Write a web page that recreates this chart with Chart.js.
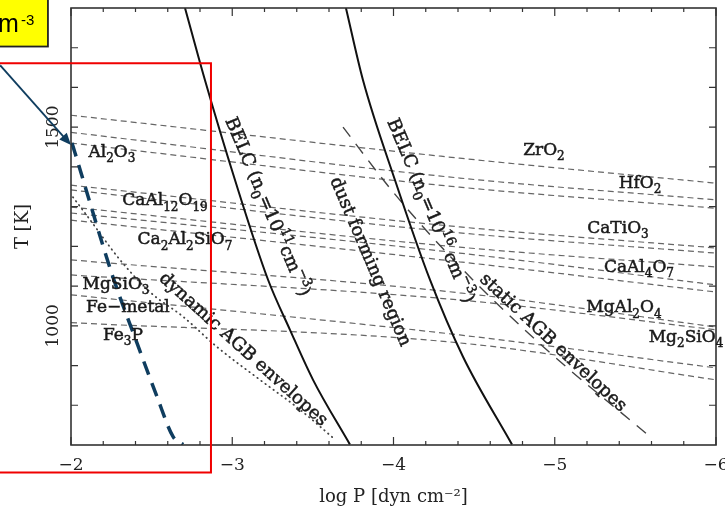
<!DOCTYPE html>
<html>
<head>
<meta charset="utf-8">
<script src="https://cdn.jsdelivr.net/npm/chart.js@4.4.1/dist/chart.umd.min.js"></script>
<style>
  html, body { margin: 0; padding: 0; background: #fff; }
  canvas { display: block; }
</style>
</head>
<body>
<canvas id="chart" width="725" height="514"></canvas>
<script>
// x = log P [dyn cm^-2], y = T [K]
const belc11P = [-2.707, -2.831, -3.017, -3.222, -3.358, -3.501, -3.730];
const belc11T = [1800, 1618, 1367, 1116, 990, 864, 701];
const belc16P = [-3.705, -3.811, -4.009, -4.226, -4.431, -4.735];
const belc16T = [1800, 1618, 1367, 1116, 922, 701];
const staticP = [-3.687, -3.997, -4.431, -4.927, -5.591];
const staticT = [1500, 1337, 1141, 948, 721];
const dynamicP = [-2.012, -2.105, -2.304, -2.490, -2.695, -2.905, -3.172, -3.420, -3.637];
const dynamicT = [1324, 1274, 1166, 1085, 1023, 947, 864, 789, 714];
const markedP = [-2.006, -2.025, -2.260, -2.409, -2.533, -2.633, -2.695];
const markedT = [1460, 1435, 1123, 957, 822, 721, 701];

// condensation lines, T at log P = -2, -4.41, -6
const condP = [-2, -4.41, -6];
const condT = [
  [1530, 1422, 1359],
  [1487, 1372, 1317],
  [1460, 1349, 1296],
  [1354, 1249, 1196],
  [1342, 1234, 1183],
  [1299, 1198, 1148],
  [1284, 1183, 1103],
  [1266, 1161, 1085],
  [1166, 1083, 997],
  [1128, 1065, 990],
  [1078, 977, 894],
  [1008, 957, 864],
];

const speciesText = ['Al_2O_3', 'CaAl_{12}O_{19}', 'Ca_2Al_2SiO_7', 'MgSiO_3', 'Fe\u2212metal', 'Fe_3P',
  'ZrO_2', 'HfO_2', 'CaTiO_3', 'CaAl_4O_7', 'MgAl_2O_4', 'Mg_2SiO_4'];
const speciesP = [-2.254, -2.583, -2.707, -2.279, -2.353, -2.322, -4.933, -5.529, -5.392, -5.522, -5.429, -5.814];
const speciesT = [1437, 1314, 1216, 1103, 1045, 975, 1442, 1359, 1244, 1146, 1045, 970];

const curveText = ['BELC (n_0=10^{11}cm^{-3})', 'BELC (n_0=10^{16} cm^{-3})', 'dust forming region',
  'static AGB envelopes', 'dynamic AGB envelopes'];
const curveP = [-3.2155, -4.226, -3.854, -4.989, -3.067];
const curveT = [1299, 1289, 1161, 957, 940];
const curveAngle = [67, 67, 67, 43, 42];

const NAVY = '#0f3d5f';
const SERIF = '"DejaVu Serif", serif';

function series(P, T) {
  return P.map((p, i) => ({x: p, y: T[i]}));
}

function parseRich(s) {
  const out = [];
  let buf = '', i = 0;
  while (i < s.length) {
    const c = s[i];
    if (c === '_' || c === '^') {
      if (buf) { out.push({t: buf, k: 0}); buf = ''; }
      let t;
      if (s[i + 1] === '{') {
        const j = s.indexOf('}', i);
        t = s.slice(i + 2, j);
        i = j + 1;
      } else {
        t = s[i + 1];
        i += 2;
      }
      out.push({t: t.replace('-', '\u2212'), k: c === '_' ? -1 : 1});
    } else {
      buf += c;
      i++;
    }
  }
  if (buf) out.push({t: buf, k: 0});
  return out;
}

function drawRich(ctx, s, x, y, angle, size) {
  const parts = parseRich(s);
  const big = size + 'px ' + SERIF;
  const small = Math.round(size * 0.72) + 'px ' + SERIF;
  let w = 0;
  parts.forEach(p => {
    ctx.font = p.k ? small : big;
    p.w = ctx.measureText(p.t).width;
    w += p.w;
  });
  ctx.save();
  ctx.translate(x, y);
  ctx.rotate(angle * Math.PI / 180);
  ctx.textBaseline = 'middle';
  ctx.textAlign = 'left';
  ctx.lineWidth = 0.5;
  let cx = -w / 2;
  parts.forEach(p => {
    ctx.font = p.k ? small : big;
    const dy = p.k === -1 ? size * 0.38 : p.k === 1 ? -size * 0.38 : 0;
    ctx.fillText(p.t, cx, dy);
    ctx.strokeText(p.t, cx, dy);
    cx += p.w;
  });
  ctx.restore();
}

const overlay = {
  id: 'overlay',
  afterDraw(chart) {
    const {ctx, chartArea: a, scales: {x, y}} = chart;
    ctx.save();

    // frame and inward ticks
    ctx.strokeStyle = '#333';
    ctx.lineWidth = 1.6;
    ctx.strokeRect(a.left, a.top, a.right - a.left, a.bottom - a.top);
    ctx.lineWidth = 1.2;
    ctx.beginPath();
    for (let i = 0; i <= 20; i++) {
      const px = x.getPixelForValue(-2 - i * 0.2);
      const len = i % 5 === 0 ? 8 : 4;
      ctx.moveTo(px, a.bottom); ctx.lineTo(px, a.bottom - len);
      ctx.moveTo(px, a.top); ctx.lineTo(px, a.top + len);
    }
    for (let t = 800; t < 1800; t += 100) {
      const py = y.getPixelForValue(t);
      ctx.moveTo(a.left, py); ctx.lineTo(a.left + 7, py);
      ctx.moveTo(a.right, py); ctx.lineTo(a.right - 7, py);
    }
    ctx.stroke();

    // labels
    ctx.fillStyle = '#1a1a1a';
    ctx.strokeStyle = '#1a1a1a';
    speciesText.forEach((s, i) => {
      drawRich(ctx, s, x.getPixelForValue(speciesP[i]), y.getPixelForValue(speciesT[i]), 0, 17);
    });
    curveText.forEach((s, i) => {
      drawRich(ctx, s, x.getPixelForValue(curveP[i]), y.getPixelForValue(curveT[i]), curveAngle[i], 18);
    });

    // red highlight box
    const rx = x.getPixelForValue(-2.868);
    const rt = y.getPixelForValue(1661);
    const rb = y.getPixelForValue(631);
    ctx.strokeStyle = '#f00000';
    ctx.lineWidth = 2;
    ctx.beginPath();
    ctx.moveTo(-2, rt); ctx.lineTo(rx, rt); ctx.lineTo(rx, rb); ctx.lineTo(-2, rb);
    ctx.stroke();

    // arrow to the top of the marked curve
    const ax0 = x.getPixelForValue(-1.56), ay0 = y.getPixelForValue(1656);
    const ax1 = x.getPixelForValue(-2.0), ay1 = y.getPixelForValue(1455);
    const ang = Math.atan2(ay1 - ay0, ax1 - ax0);
    ctx.strokeStyle = NAVY;
    ctx.fillStyle = NAVY;
    ctx.lineWidth = 1.8;
    ctx.beginPath();
    ctx.moveTo(ax0, ay0);
    ctx.lineTo(ax1 - 8 * Math.cos(ang), ay1 - 8 * Math.sin(ang));
    ctx.stroke();
    ctx.beginPath();
    ctx.moveTo(ax1, ay1);
    ctx.lineTo(ax1 - 12 * Math.cos(ang) + 5 * Math.sin(ang), ay1 - 12 * Math.sin(ang) - 5 * Math.cos(ang));
    ctx.lineTo(ax1 - 12 * Math.cos(ang) - 5 * Math.sin(ang), ay1 - 12 * Math.sin(ang) + 5 * Math.cos(ang));
    ctx.closePath();
    ctx.fill();

    // yellow note box (cut at the page edge)
    const yr = x.getPixelForValue(-1.857), yb = y.getPixelForValue(1703);
    ctx.fillStyle = '#ffff00';
    ctx.fillRect(-2, -2, yr + 2, yb + 2);
    ctx.strokeStyle = '#222';
    ctx.lineWidth = 1.8;
    ctx.strokeRect(-2, -2, yr + 2, yb + 2);
    ctx.fillStyle = '#000';
    ctx.textBaseline = 'alphabetic';
    ctx.textAlign = 'left';
    ctx.font = '25px "Liberation Sans", Arial, sans-serif';
    ctx.fillText('m', -2, 32);
    ctx.font = '15px "Liberation Sans", Arial, sans-serif';
    ctx.fillText('-3', 21, 25);

    ctx.restore();
  }
};

const datasets = [
  {data: series(markedP, markedT), borderColor: NAVY, borderWidth: 3.5, borderDash: [14, 9]},
  {data: series(belc11P, belc11T), borderColor: '#111', borderWidth: 2},
  {data: series(belc16P, belc16T), borderColor: '#111', borderWidth: 2},
  {data: series(staticP, staticT), borderColor: '#444', borderWidth: 1.4, borderDash: [12, 9]},
  {data: series(dynamicP, dynamicT), borderColor: '#444', borderWidth: 1.8, borderDash: [0.5, 4.5],
    borderCapStyle: 'round'},
  ...condT.map(T => ({data: series(condP, T), borderColor: '#666', borderWidth: 1.2,
    borderDash: [6, 4]})),
].map(d => Object.assign({showLine: true, pointRadius: 0, fill: false, cubicInterpolationMode: 'monotone'}, d));

new Chart(document.getElementById('chart'), {
  type: 'scatter',
  data: {datasets},
  options: {
    responsive: false,
    animation: false,
    layout: {padding: {top: 8, right: 9, bottom: 0, left: 0}},
    plugins: {legend: {display: false}, tooltip: {enabled: false}},
    scales: {
      x: {
        type: 'linear',
        min: -6,
        max: -2,
        reverse: true,
        grid: {display: false, drawTicks: false},
        border: {display: false},
        ticks: {
          stepSize: 1,
          autoSkip: false,
          padding: 10,
          color: '#222',
          font: {family: 'DejaVu Serif', size: 17},
          callback: v => '\u2212' + Math.abs(v),
        },
        title: {
          display: true,
          text: 'log P [dyn cm\u207B\u00B2]',
          color: '#222',
          font: {family: 'DejaVu Serif', size: 18},
          padding: {top: 0, bottom: 6},
        },
        afterFit(s) { s.height = 69; s.paddingLeft = 0; s.paddingRight = 0; },
      },
      y: {
        type: 'linear',
        min: 700,
        max: 1800,
        grid: {display: false, drawTicks: false},
        border: {display: false},
        ticks: {
          stepSize: 100,
          autoSkip: false,
          minRotation: 90,
          maxRotation: 90,
          crossAlign: 'center',
          padding: -4,
          color: '#222',
          font: {family: 'DejaVu Serif', size: 17},
          callback: v => (v === 1000 || v === 1500) ? String(v) : '',
        },
        title: {
          display: true,
          text: 'T [K]',
          color: '#222',
          font: {family: 'DejaVu Serif', size: 18},
          padding: {top: 13, bottom: 0},
        },
        afterFit(s) { s.width = 71; s.paddingTop = 0; s.paddingBottom = 0; },
      },
    },
  },
  plugins: [overlay],
});
</script>
</body>
</html>
